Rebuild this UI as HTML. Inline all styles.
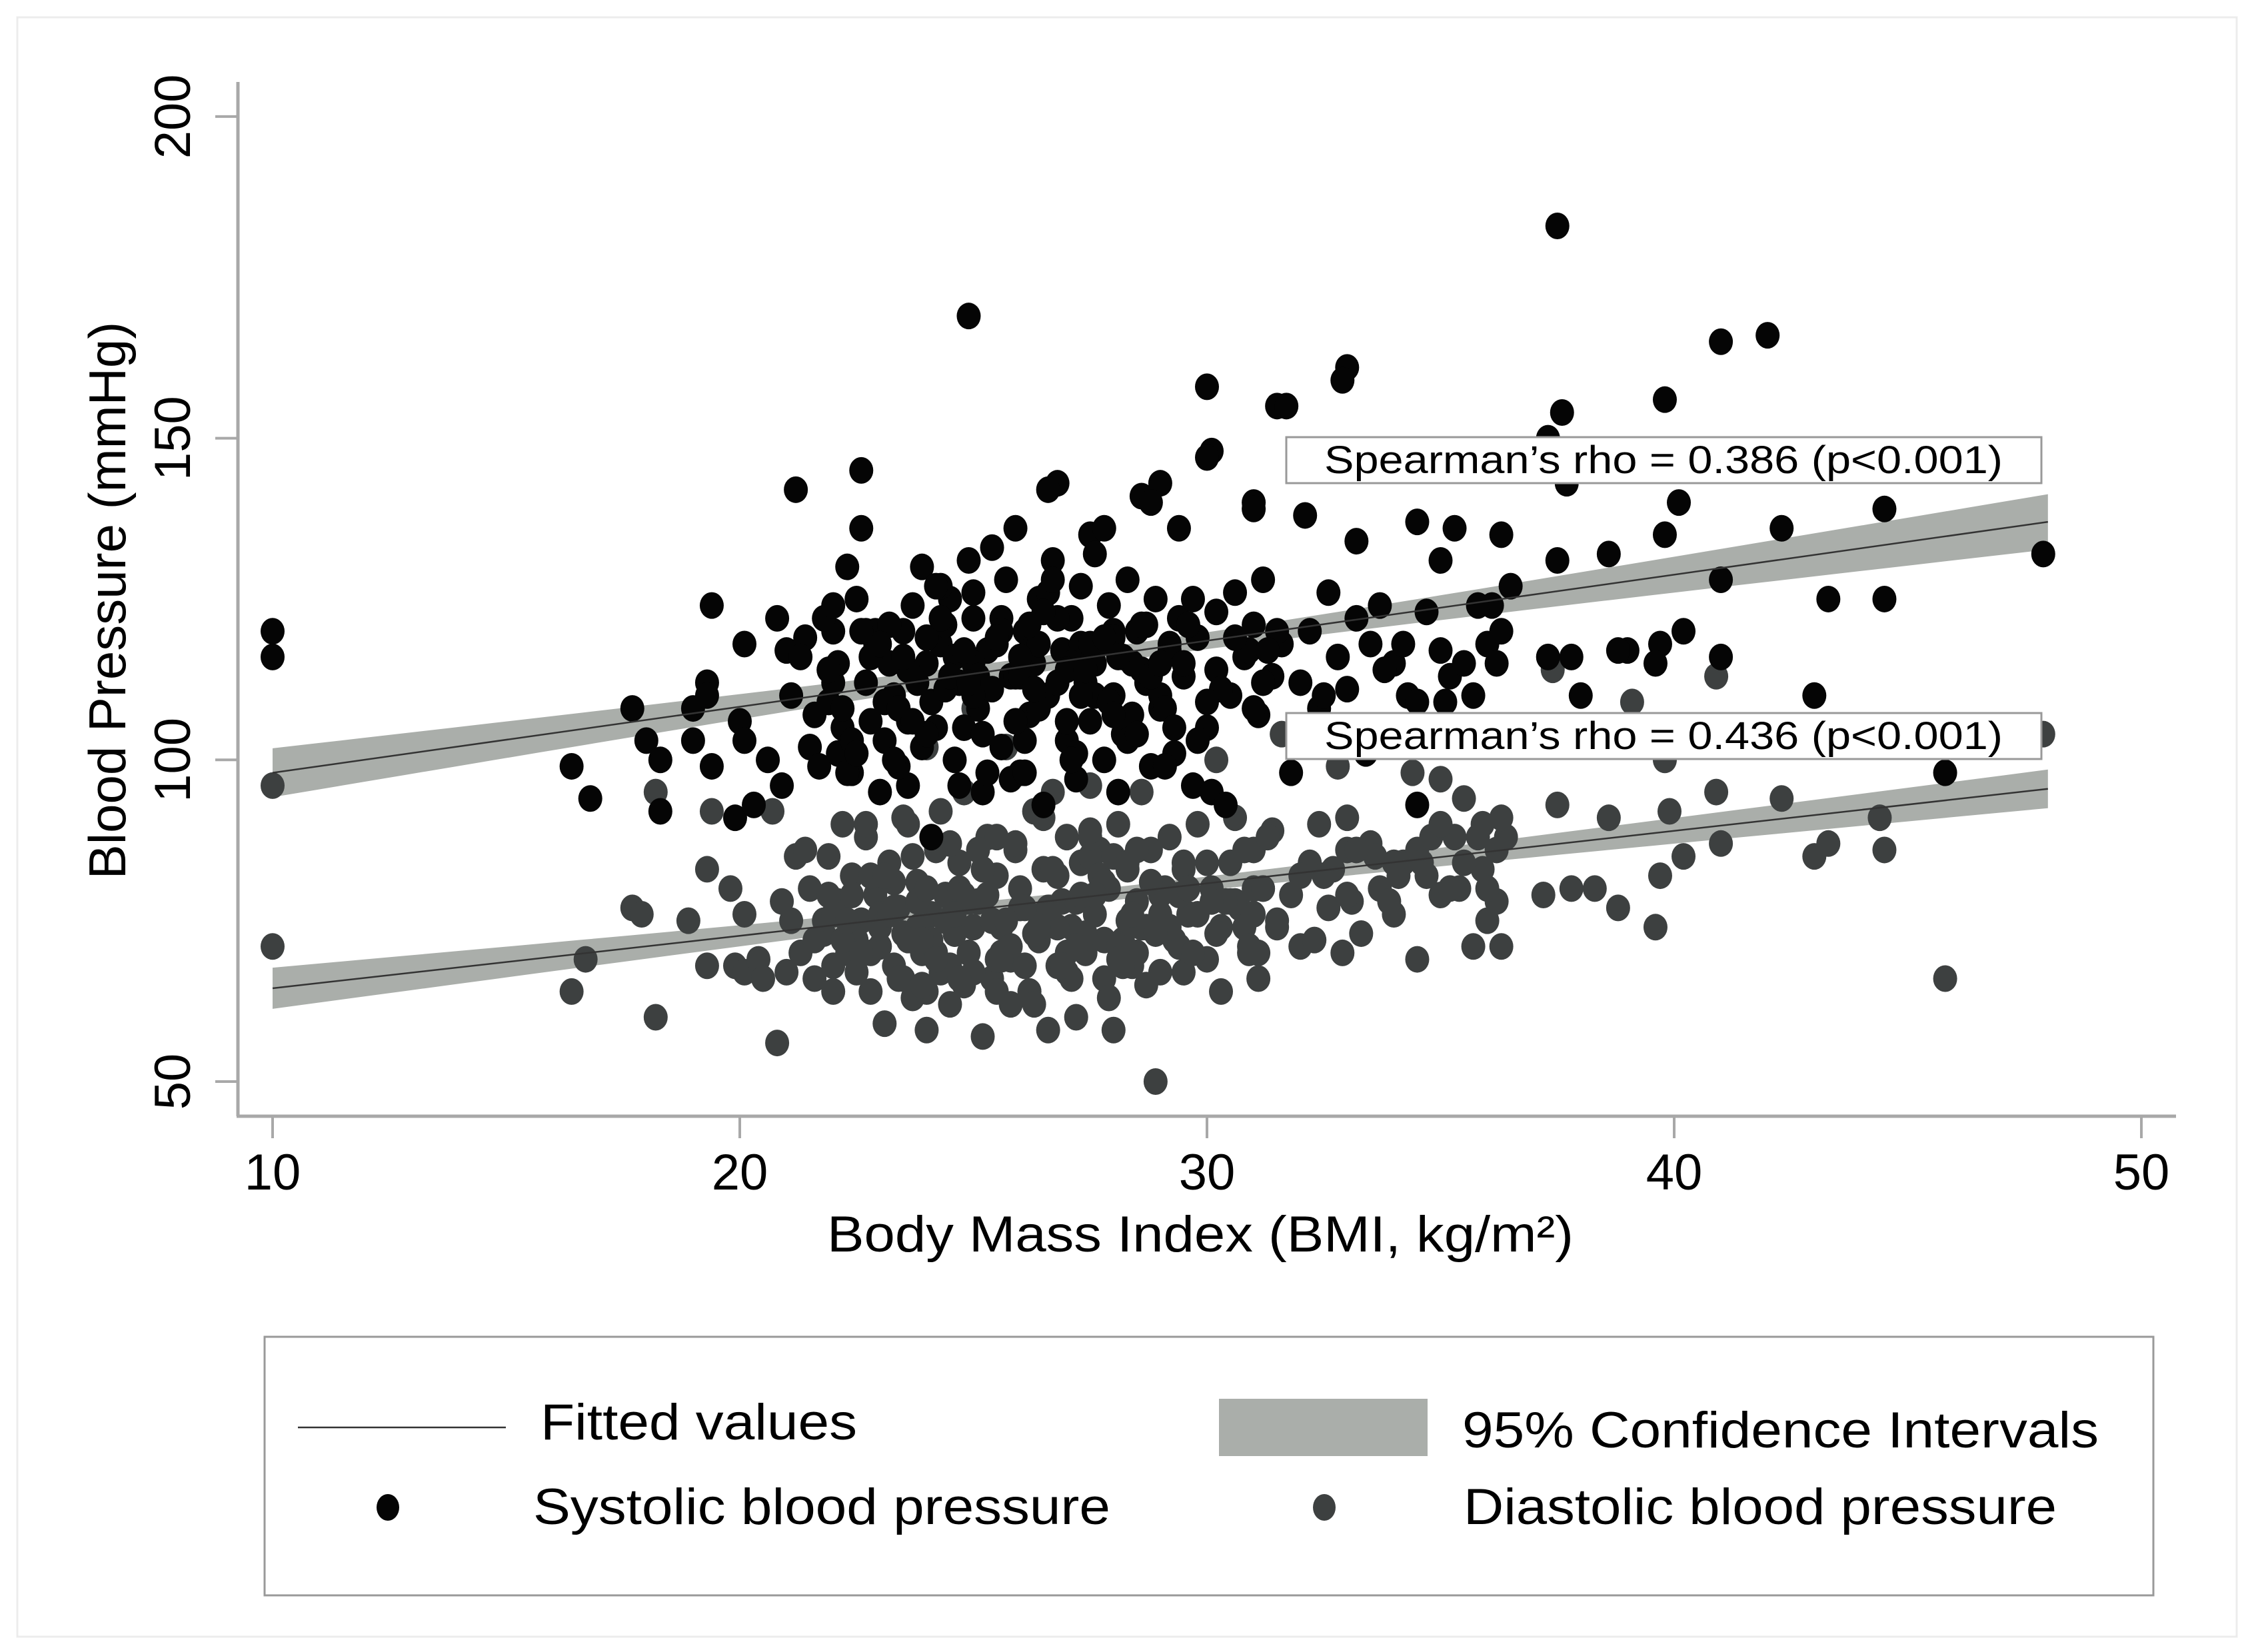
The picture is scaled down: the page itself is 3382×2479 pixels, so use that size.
<!DOCTYPE html>
<html><head><meta charset="utf-8"><style>
html,body{margin:0;padding:0;background:#fff}
svg{display:block}
text{font-family:"Liberation Sans",Arial,sans-serif;fill:#000}
</style></head><body>
<svg id="chart" width="3382" height="2479" viewBox="0 0 3382 2479" xmlns="http://www.w3.org/2000/svg">
<rect x="26" y="26" width="3330" height="2430" fill="#fff" stroke="#ececec" stroke-width="3"/>
<g id="ci"></g>
<g id="pts"></g>
<g id="fits"></g>
<g id="axes"></g>
<g>
<rect x="1930" y="656" width="1133" height="69" fill="#fff" stroke="#999" stroke-width="3"/>
<text x="1987" y="710" font-size="58" textLength="1018" lengthAdjust="spacingAndGlyphs">Spearman’s rho = 0.386 (p&lt;0.001)</text>
</g>
<g>
<rect x="1930" y="1070" width="1133" height="69" fill="#fff" stroke="#999" stroke-width="3"/>
<text x="1987" y="1124" font-size="58" textLength="1018" lengthAdjust="spacingAndGlyphs">Spearman’s rho = 0.436 (p&lt;0.001)</text>
</g>
<text x="1801" y="1878" font-size="76" text-anchor="middle" textLength="1120" lengthAdjust="spacingAndGlyphs">Body Mass Index (BMI, kg/m²)</text>
<text transform="translate(188,901) rotate(-90)" font-size="78" text-anchor="middle">Blood Pressure (mmHg)</text>
<g>
<rect x="397" y="2006" width="2834" height="388" fill="#fff" stroke="#999" stroke-width="3"/>
<line x1="447" y1="2142" x2="759" y2="2142" stroke="#333" stroke-width="2.5"/>
<text x="811" y="2160" font-size="76" textLength="475" lengthAdjust="spacingAndGlyphs">Fitted values</text>
<rect x="1829" y="2099" width="313" height="86" fill="#aaaeaa"/>
<text x="2194" y="2172" font-size="76" textLength="955" lengthAdjust="spacingAndGlyphs">95% Confidence Intervals</text>
<ellipse cx="582" cy="2262" rx="17" ry="20" fill="#050505"/>
<text x="800" y="2287" font-size="76" textLength="866" lengthAdjust="spacingAndGlyphs">Systolic blood pressure</text>
<ellipse cx="1987" cy="2262" rx="17" ry="20" fill="#3d4040"/>
<text x="2196" y="2287" font-size="76" textLength="890" lengthAdjust="spacingAndGlyphs">Diastolic blood pressure</text>
</g>
</svg>
<script>
const xTicks=[10,20,30,40,50];
const yTicks=[50,100,150,200];
const sysX=[10,10,24.9,37.5,41,42,33,32.9,30,31.5,31.7,39.8,37.6,30.1,30,37.3,21.2,22.6,26.8,26.6,29,28.6,28.8,31,31,33.2,32.1,34.5,35.3,35,36.3,40.1,39.8,44.5,42.3,47.9,43.3,44.5,43,39.7,40.2,39,37.7,38.6,38,39.6,41,29.4,27.5,27.8,16.4,16.8,17.7,18,18.3,18.3,19,19,19.4,19.3,19.3,19.4,19.9,20,20.1,20.1,20.3,20.6,20.8,20.9,21,21.1,21.5,21.7,21.9,22,22.1,22.2,22.3,22.5,22.6,22.4,22.7,22.9,23,23.1,23.3,23.5,23.6,23.7,23.9,24,24.1,24.2,24.3,24.5,24.6,24.7,24.9,25,25.1,25.2,25.4,25.5,25.6,25.7,25.8,25.9,26,26.1,26.2,26.3,26.4,26.5,26.6,26.7,26.9,27,27.1,27.2,27.3,27.4,27.5,27.6,27.7,27.8,27.9,28,28.1,28.2,28.3,28.4,28.5,28.7,28.8,28.9,29,29.2,29.3,29.4,29.5,29.7,29.8,30,30.1,30.2,30.4,30.5,30.6,30.8,31,31.1,31.2,31.4,31.6,31.8,32,32.2,32.4,32.6,32.8,33,33.2,33.4,33.5,33.7,34,34.3,34.5,34.5,34.7,35,35.2,35.5,35.7,36,36.2,36.3,36.5,37.3,37.5,37.8,38.8,41,45.8,21.8,22.9,23.2,24.4,25.3,25.6,26.2,26.8,27.3,27.6,24.1,24.8,22.2,23.4,26.1,29,28.2,30.9,31.5,29.6,25,25.4,24.6,23.8,22.8,23.6,24.3,25.9,26.6,27.1,28,28.6,29.1,21.4,22.1,26.4,27.9,28.4,29.7,30.3,
21.6,22.0,22.4,22.8,23.2,23.6,24.0,24.4,24.8,25.2,25.6,26.0,26.4,26.8,27.2,27.6,28.0,28.4,28.8,29.2,21.9,22.3,22.7,23.1,23.5,23.9,24.3,24.7,25.1,25.5,25.9,26.3,26.7,27.1,27.5,27.9,28.3,28.7,29.1,29.5,22.5,23.0,23.4,24.5,25.0,25.8,26.5,27.0,27.8,28.5,29.0,30.0,30.6,31.2,22.0,23.3,24.2,25.3,26.2,27.3,28.1,29.3,30.2,31.0,24.0,25.0,26.0,27.0,28.0,21.3,22.6,23.7,24.9,26.1,27.4,28.6,29.8,31.3,32.5,33.8,35.1,36.1,34.2,35.8];
const sysY=[120,116,169,183,165,166,161,159,158,155,155,156,154,148,147,150,142,145,143,142,143,141,140,140,139,134,138,137,136,131,135,140,135,139,136,132,125,125,110,118,120,117,143,132,110,115,116,136,135,136,99,94,108,103,100,92,108,103,124,112,110,99,91,106,103,118,93,100,122,96,117,110,102,99,109,120,115,105,130,125,136,98,112,118,95,103,110,120,96,124,130,115,88,105,118,125,100,112,131,122,108,95,133,118,102,128,113,136,98,120,107,115,125,93,110,131,117,103,122,97,127,112,106,132,118,100,124,110,95,116,128,104,120,112,99,125,108,118,101,122,113,96,119,105,95,114,93,110,126,116,121,107,128,113,118,98,112,120,108,126,116,111,122,101,118,124,115,110,109,93,123,117,113,115,110,118,115,120,127,116,131,116,117,128,98,122,120,115,121,117,122,117,112,118,110,109,105,108,99,103,110,104,117,120,121,115,111,116,112,106,114,127,113,126,115,120,114,108,119,101,118,119,115,125,111,
107,112,103,116,121,106,119,111,117,104,120,113,108,122,101,115,119,107,113,117,114,98,120,109,116,102,122,96,113,119,106,111,128,100,118,109,103,121,99,115,101,118,108,113,126,97,123,106,119,104,115,109,119,112,124,100,127,98,121,110,116,105,123,108,104,110,116,114,107,116,120,106,112,98,114,121,103,117,110,114,109,124,118,124,112];
const diaX=[10,10,16.4,16.7,17.7,17.9,18.2,18.2,18.9,19.3,19.3,19.4,19.8,19.9,20.1,20.1,20.4,20.5,20.7,20.8,20.9,21.1,21.2,21.3,21.5,21.6,21.8,21.9,22,22.1,22.2,22.3,22.4,22.5,22.6,22.7,22.8,22.9,23,23.1,23.2,23.3,23.4,23.5,23.6,23.7,23.8,23.9,24,24,24.1,24.2,24.3,24.4,24.5,24.6,24.7,24.8,24.9,25,25.1,25.2,25.3,25.4,25.5,25.6,25.7,25.8,25.9,26,26.2,26.3,26.4,26.5,26.6,26.7,26.8,26.9,27,27.1,27.2,27.3,27.4,27.5,27.6,27.7,27.8,27.9,28,28.1,28.2,28.3,28.4,28.5,28.6,28.7,28.8,28.9,29,29.1,29.2,29.3,29.5,29.6,29.8,30,30.1,30.2,30.3,30.5,30.6,30.7,30.9,31,31.1,31.2,31.4,31.5,31.6,31.8,32,32.2,32.4,32.6,32.8,33,33.1,33.3,33.5,33.7,34,34.2,34.4,34.5,34.7,35,35,35.3,35.5,35.7,35.9,36,36.2,36.3,36.4,37.2,37.4,37.5,37.8,38.3,38.6,38.8,39.1,39.6,39.7,39.8,39.9,40.2,40.9,40.9,41,42.3,43,43.3,44.4,44.5,45.8,47.9,22.5,23,23.5,24.2,24.8,25,25.6,26.1,26.8,27.2,27.8,28.3,29,23.8,24.5,25.3,26.5,22,21,24,25.8,27,28.5,30.5,31,32,33,34.5,35.5,36,23.3,24.1,24.7,25.5,26.3,27.5,28.1,29.4,30.8,31.3,26,27.7,22.8,23.9,
21.4,21.8,22.2,22.6,23.0,23.4,23.8,24.2,24.6,25.0,25.4,25.8,26.2,26.6,27.0,27.4,27.8,28.2,28.6,29.0,29.4,29.8,30.2,30.6,31.0,21.6,22.0,22.4,22.8,23.2,23.6,24.0,24.4,24.8,25.2,25.6,26.0,26.4,26.8,27.2,27.6,28.0,28.4,28.8,29.2,29.6,30.0,30.4,30.8,31.2,22.3,23.1,23.9,24.7,25.5,26.3,27.1,27.9,28.7,29.5,30.3,31.1,32.3,32.9,33.6,34.1,34.8,35.4,35.9,36.2,32.5,33.2,33.9,34.6,35.2,35.8,36.3,33.0,34.0,35.0,24.3,25.1,25.9,26.7,27.5,28.3,23.5,24.5,25.5,26.5,27.5,28.5,29.5,22.7,23.7,24.9,26.1,27.3,28.9,30.1,31.5,32.7,21.9,23.3,24.6,25.7,26.9,28.1,29.7,30.9];
const diaY=[96,71,64,69,77,76,60,95,75,83,68,92,80,68,67,76,69,66,92,56,78,75,85,70,80,66,73,85,64,78,90,70,82,67,75,88,64,79,71,59,84,68,77,73,90,63,81,70,58,102,76,86,67,79,62,73,84,95,70,108,78,57,88,66,82,74,102,69,86,77,64,92,72,83,58,95,68,78,88,74,60,84,70,96,76,86,66,80,58,90,72,83,68,78,95,74,86,50,67,80,88,72,83,76,90,69,80,100,74,84,91,77,70,86,66,80,89,74,104,79,71,84,90,77,99,86,78,73,87,80,76,84,98,69,82,79,97,88,94,71,83,75,78,71,88,79,114,93,80,80,91,77,109,74,82,100,92,85,113,95,87,94,85,87,91,86,66,104,72,76,66,70,65,74,70,68,74,78,72,75,76,74,68,79,76,68,67,64,62,67,70,78,76,82,91,86,84,80,81,72,80,69,73,85,71,79,74,88,77,82,70,72,86,75,
72,70,74,66,78,69,73,67,75,71,64,77,70,73,81,68,74,79,71,76,73,78,80,72,76,79,82,76,72,80,75,79,83,69,80,74,82,71,79,85,76,81,74,80,84,78,86,80,75,82,65,66,64,62,66,63,65,67,64,70,72,70,85,82,88,80,90,86,82,86,78,84,80,88,91,79,84,90,92,86,87,83,88,84,91,87,88,91,89,86,84,90,85,78,77,79,73,78,75,83,79,77,76,75,68,69,70,71,72,69,73,74];
const fitX=[10,48];
const sysFit=[98,137];
const diaFit=[64.5,95.5];
const ciCenter=[27.5,27.5];
const sysCI=[3.8,1.2,4.3];
const diaCI=[3.2,1.0,3.0];

const NS='http://www.w3.org/2000/svg';
const X0=409,PX=70.1,Y0=1623,PY=9.654;
function sx(v){return X0+(v-10)*PX;}
function sy(v){return Y0-(v-50)*PY;}
function mk(tag,attrs,parent){const e=document.createElementNS(NS,tag);for(const k in attrs)e.setAttribute(k,attrs[k]);parent.appendChild(e);return e;}

const axes=document.getElementById('axes');
const yl=mk('line',{x1:357,y1:123,x2:357,y2:1675,stroke:'#a8a8a8','stroke-width':5},axes);


const xl=mk('line',{x1:355,y1:1675,x2:3265,y2:1675,stroke:'#a8a8a8','stroke-width':5},axes);


xTicks.forEach(t=>{
  const l=mk('line',{x1:sx(t),y1:1675,x2:sx(t),y2:1708,stroke:'#a8a8a8','stroke-width':4},axes);
  
  
  const tx=mk('text',{x:sx(t),y:1785,'font-size':76,'text-anchor':'middle'},axes);
  tx.textContent=t;
  
  
});
yTicks.forEach(t=>{
  const l=mk('line',{x1:323,y1:sy(t),x2:357,y2:sy(t),stroke:'#a8a8a8','stroke-width':4},axes);
  
  
  const tx=mk('text',{transform:`translate(285,${sy(t)}) rotate(-90)`,'font-size':76,'text-anchor':'middle'},axes);
  tx.textContent=t;
  
  
});

function hw(ci,x){const c=ciCenter[0];const span=x<c?(c-fitX[0]):(fitX[1]-c);const e=x<c?ci[0]:ci[2];const k=(e*e-ci[1]*ci[1])/(span*span);return Math.sqrt(ci[1]*ci[1]+k*(x-c)*(x-c));}
function fitAt(f,x){return f[0]+(f[1]-f[0])*(x-fitX[0])/(fitX[1]-fitX[0]);}
const ciG=document.getElementById('ci');
[[sysFit,sysCI,'ci-band-systolic'],[diaFit,diaCI,'ci-band-diastolic']].forEach(([f,ci,name])=>{
  const up=[],lo=[];
  for(let i=0;i<=40;i++){const x=fitX[0]+(fitX[1]-fitX[0])*i/40;up.push(sx(x)+','+sy(fitAt(f,x)+hw(ci,x)));lo.unshift(sx(x)+','+sy(fitAt(f,x)-hw(ci,x)));}
  const p=mk('polygon',{points:up.concat(lo).join(' '),fill:'#aaaeaa'},ciG);
  
  
});
const pts=document.getElementById('pts');
diaX.forEach((x,i)=>{
  const e=mk('ellipse',{cx:sx(x),cy:sy(diaY[i]),rx:18,ry:20,fill:'#3d4040'},pts);
  
  
});
sysX.forEach((x,i)=>{
  const e=mk('ellipse',{cx:sx(x),cy:sy(sysY[i]),rx:18,ry:20,fill:'#050505'},pts);
  
  
});
const fits=document.getElementById('fits');
[[sysFit,'fit-line-systolic'],[diaFit,'fit-line-diastolic']].forEach(([f,name])=>{
  const l=mk('line',{x1:sx(fitX[0]),y1:sy(f[0]),x2:sx(fitX[1]),y2:sy(f[1]),stroke:'#333','stroke-width':2.5},fits);
  
  
});
</script>
</body></html>
